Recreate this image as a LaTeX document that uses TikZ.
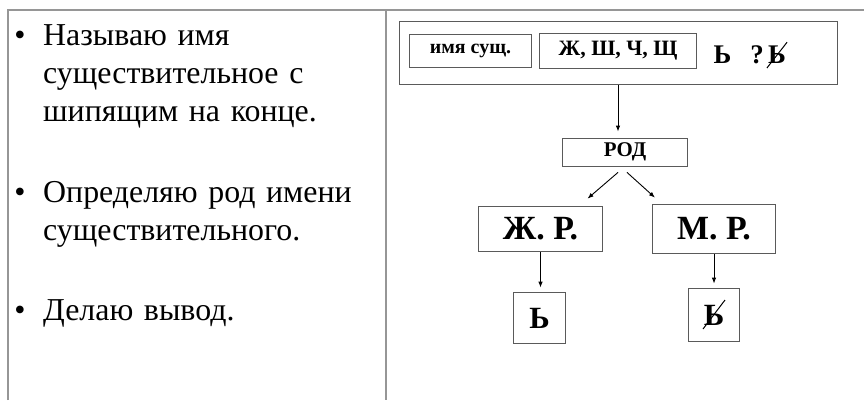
\documentclass[tikz,border=0pt]{standalone}
\usepackage{fontspec}
\setmainfont{LiberationSerif}[Extension=.ttf,UprightFont=*-Regular,BoldFont=*-Bold,ItalicFont=*-Italic,BoldItalicFont=*-BoldItalic]
\usepackage{tikz}
\usetikzlibrary{positioning,calc}
\usetikzlibrary{arrows.meta}
\definecolor{RuleGray}{RGB}{150,150,150}
\definecolor{BoxGray}{RGB}{90,90,90}
\tikzset{
  rule/.style={draw=RuleGray,line width=1.3bp},
  bul/.style={anchor=base,inner sep=0pt,font=\fontsize{32}{39}\selectfont},
  item/.style={anchor=base west,inner sep=0pt,align=left,text width=335bp,font=\fontsize{32}{38.5}\selectfont},
  box/.style={draw=BoxGray,line width=0.9bp,inner sep=0pt,font=\bfseries},
  link/.style={draw=black,line width=0.9bp,-{Latex[length=6bp,width=4.5bp]}},
}
\tikzset{cross/.style={draw=black,line width=1bp}, sign/.style={anchor=base,inner sep=0pt,font=\bfseries\fontsize{27}{27}\selectfont}}

\begin{document}
\begin{tikzpicture}[x=1bp,y=-1bp]
\useasboundingbox (0,0) rectangle (864,400);
% table
\draw[rule] (8,400)--(8,10)--(864,10);
\draw[rule] (386,10)--(386,400);
% left cell
\node[bul] (b1) at (20,45) {•};
\node[bul] (b2) at (20,202) {•};
\node[bul] (b3) at (20,320) {•};
\node[item] (t1) at (43,45) {Называю имя\\существительное с\\шипящим на конце.};
\node[item] (t2) at (43,202) {Определяю род имени\\существительного.};
\node[item] (t3) at (43,320) {Делаю вывод.};
% right cell
\node[box,minimum width=439,minimum height=64] (frame) at (618.5,53) {};
\node[box,minimum width=123,minimum height=34,font=\bfseries\fontsize{20}{20}\selectfont] (noun) at (470.5,51) {имя сущ.};
\node[box,minimum width=157,minimum height=36,font=\bfseries\fontsize{22}{22}\selectfont] (hush) at (618,51) {Ж, Ш, Ч, Щ};
\node[sign] (softA) at (722.5,63) {Ь};
\node[sign] (qmark) at (757,63) {?};
\node[sign] (softB) at (777,63) {Ь};
\draw[cross] ([shift={(-1,5)}]softB.base west)--([shift={(1,-3)}]softB.north east);
\node[box,minimum width=126,minimum height=28,font=\bfseries\fontsize{21}{21}\selectfont] (rod) at (625,152) {РОД};
\node[box,minimum width=125,minimum height=46,font=\bfseries\fontsize{34}{34}\selectfont] (fem) at (540.5,229) {Ж. Р.};
\node[box,minimum width=124,minimum height=50,font=\bfseries\fontsize{34}{34}\selectfont] (masc) at (714,229) {М. Р.};
\node[box,minimum width=53,minimum height=52,font=\bfseries\fontsize{31}{31}\selectfont] (soft) at (539.5,318) {Ь};
\node[box,minimum width=52,minimum height=54,font=\bfseries\fontsize{31}{31}\selectfont] (nosoft) at (714,315) {Ь};
\draw[cross] ($(nosoft.center)+(-11,14)$)--($(nosoft.center)+(11,-15)$);
% arrows
\coordinate (drop) at (618,85);
\draw[link,shorten >=6bp] (drop)--(drop |- rod.north);
\draw[link] ($(rod.south)+(-7,6)$)--($(fem.north)+(47,-7)$);
\draw[link] ($(rod.south)+(2,6)$)--($(masc.north)+(-59,-6)$);
\draw[link,shorten >=4bp] (fem.south)--(fem.south |- soft.north);
\draw[link,shorten >=4bp] (masc.south)--(masc.south |- nosoft.north);
\end{tikzpicture}
\end{document}
